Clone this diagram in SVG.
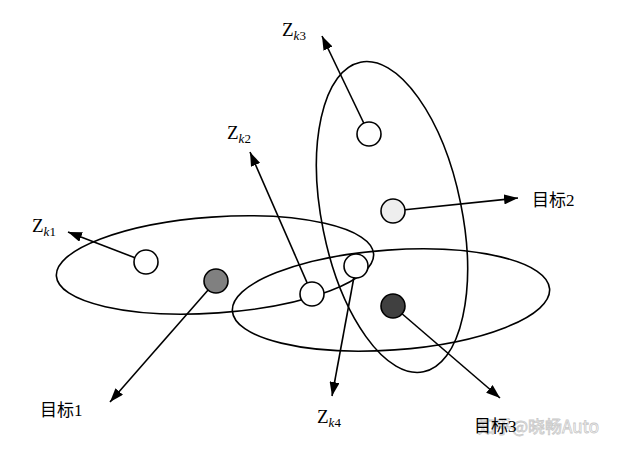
<svg xmlns="http://www.w3.org/2000/svg" width="641" height="452" viewBox="0 0 641 452">
<defs>
<marker id="ah" viewBox="0 0 14 10" refX="14" refY="5" markerWidth="14" markerHeight="10" markerUnits="userSpaceOnUse" orient="auto">
<path d="M0,0 L14,5 L0,10 Z" fill="#000"/>
</marker>
<style>
.ell{fill:none;stroke:#000;stroke-width:1.6}
.ln{fill:none;stroke:#000;stroke-width:1.6;marker-end:url(#ah)}
.nd{stroke:#000;stroke-width:1.6}
.z{font-family:"Liberation Serif",serif;font-size:19px;fill:#000}
.sub{font-family:"Liberation Serif",serif;font-size:13px}
.cn{font-family:"Liberation Serif","Noto Sans CJK SC",serif;font-size:17px;fill:#000}
.wm{font-family:"Noto Sans CJK SC","Liberation Sans",sans-serif;font-size:17px;fill:#fff;stroke:#c8c8c8;stroke-width:0.8}
</style>
</defs>
<g id="regions">
<ellipse class="ell" cx="215" cy="265" rx="159" ry="48" transform="rotate(-4 215 265)"/>
<ellipse class="ell" cx="391" cy="300" rx="159" ry="50" transform="rotate(-4 391 300)"/>
<ellipse class="ell" cx="392" cy="217" rx="70" ry="158" transform="rotate(-11.5 392 217)"/>
</g>
<g id="connectors">
<line class="ln" x1="146" y1="262" x2="68" y2="232"/>
<line class="ln" x1="216" y1="281" x2="110" y2="402"/>
<line class="ln" x1="312" y1="294" x2="250" y2="152"/>
<line class="ln" x1="356" y1="266" x2="332" y2="396"/>
<line class="ln" x1="393" y1="306" x2="500" y2="398"/>
<line class="ln" x1="393" y1="211" x2="518" y2="198"/>
<line class="ln" x1="369" y1="134" x2="322" y2="36"/>
</g>
<g id="n1"><circle class="nd" cx="146" cy="262" r="12" fill="#fff"/></g>
<g id="n2"><circle class="nd" cx="216" cy="281" r="12" fill="#808080"/></g>
<g id="n3"><circle class="nd" cx="312" cy="294" r="12" fill="#fff"/></g>
<g id="n4"><circle class="nd" cx="356" cy="266" r="12" fill="#fff"/></g>
<g id="n5"><circle class="nd" cx="393" cy="306" r="12" fill="#404040"/></g>
<g id="n6"><circle class="nd" cx="369" cy="134" r="12" fill="#fff"/></g>
<g id="n7"><circle class="nd" cx="393" cy="211" r="12" fill="#eeeeee"/></g>
<g id="labels">
<text class="z" x="32" y="232">Z<tspan class="sub" dy="4" font-style="italic">k</tspan><tspan class="sub">1</tspan></text>
<text class="z" x="227" y="139">Z<tspan class="sub" dy="4" font-style="italic">k</tspan><tspan class="sub">2</tspan></text>
<text class="z" x="282" y="36">Z<tspan class="sub" dy="4" font-style="italic">k</tspan><tspan class="sub">3</tspan></text>
<text class="z" x="317" y="423">Z<tspan class="sub" dy="4" font-style="italic">k</tspan><tspan class="sub">4</tspan></text>
<text class="cn" x="40" y="416">目标1</text>
<text class="cn" x="532" y="206">目标2</text>
<text class="wm" x="478" y="433">知乎@晓畅Auto</text>
<text class="cn" x="474" y="432">目标3</text>
</g>
</svg>
